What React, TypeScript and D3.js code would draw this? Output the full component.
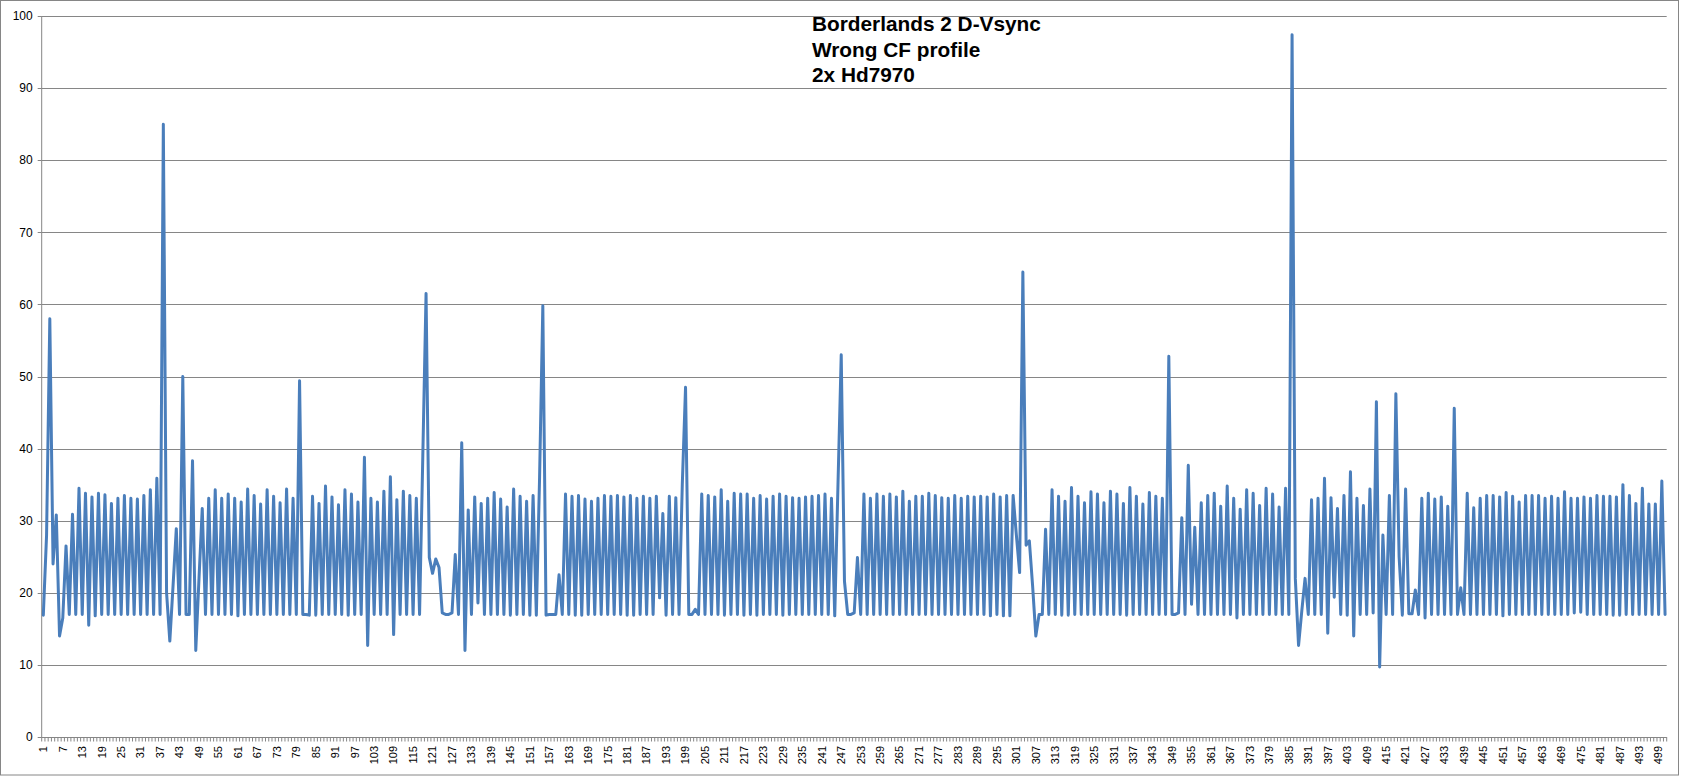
import React from "react";
import * as d3 from "d3";

const TITLE_LINES = ["Borderlands 2 D-Vsync", "Wrong CF profile", "2x Hd7970"];

const Y_TICKS = [0, 10, 20, 30, 40, 50, 60, 70, 80, 90, 100];

// frame time series, 501 samples
const FRAMES_1_100 = [
  16.9, 28, 58, 24, 30.8, 14, 16.5, 26.5, 17, 30.9,
  17, 34.5, 17, 33.8, 15.5, 33.3, 16.8, 33.8, 17, 33.6,
  17, 32.4, 17, 33.1, 17, 33.5, 17, 33.1, 17, 33.0,
  17, 33.5, 17, 34.3, 17, 35.9, 17, 85, 20, 13.3,
  21, 28.9, 17, 50, 17, 17, 38.3, 12, 22, 31.7,
  17, 33.1, 17, 34.3, 17, 33.1, 17, 33.7, 17, 33.1,
  16.8, 32.6, 17, 34.4, 17, 33.5, 17, 32.3, 17, 34.3,
  17, 33.4, 17, 32.5, 17, 34.4, 17, 33.1, 17, 49.4,
  17, 17, 16.9, 33.4, 16.9, 32.4, 17, 34.8, 17, 33.3,
  17, 32.2, 17, 34.3, 16.9, 33.7, 17, 32.6, 17, 38.8,
];
const FRAMES_101_200 = [
  12.7, 33.1, 17, 32.6, 17, 34.1, 17, 36.1, 14.2, 32.9,
  17, 34.1, 17, 33.5, 17, 33.1, 17, 39, 61.5, 24.9,
  22.7, 24.7, 23.5, 17.2, 17, 17, 17.2, 25.3, 17, 40.8,
  12, 31.5, 17, 33.3, 18.6, 32.4, 17, 33.1, 17, 33.9,
  17, 33.0, 17, 31.9, 16.9, 34.4, 17, 33.4, 17, 32.7,
  16.9, 33.5, 16.9, 36, 59.8, 16.9, 17, 17, 17, 22.5,
  17, 33.7, 17, 33.4, 16.9, 33.5, 16.9, 33.0, 17, 32.7,
  17, 33.1, 17, 33.5, 17, 33.4, 17, 33.5, 17, 33.3,
  16.9, 33.5, 16.9, 33.1, 17, 33.4, 17, 33.1, 17, 33.4,
  19.3, 31.0, 16.9, 33.4, 17, 33.2, 17, 35, 48.5, 17,
];
const FRAMES_201_300 = [
  17, 17.7, 17, 33.7, 17, 33.5, 17, 33.3, 17, 34.3,
  16.9, 32.7, 17, 33.8, 17, 33.7, 16.9, 33.7, 17, 33.1,
  16.9, 33.5, 17, 33.0, 17, 33.4, 17, 33.7, 16.9, 33.4,
  17, 33.2, 17, 33.1, 17, 33.3, 17, 33.4, 17, 33.5,
  17, 33.7, 17, 33.1, 16.8, 35, 53, 21.6, 17, 17,
  17.2, 24.9, 17, 33.7, 17, 33.1, 17, 33.7, 17, 33.4,
  17, 33.7, 17, 33.3, 17, 34.1, 17, 32.7, 17, 33.4,
  17, 33.4, 17, 33.8, 17, 33.5, 17, 33.2, 17, 33.1,
  17, 33.5, 17, 33.1, 17, 33.4, 17, 33.3, 17, 33.4,
  17, 33.3, 16.8, 33.7, 17, 33.3, 16.8, 33.5, 16.8, 33.5,
];
const FRAMES_301_400 = [
  28, 22.8, 64.5, 26.6, 27.2, 21, 14, 17, 17, 28.8,
  17, 34.3, 17, 33.4, 16.9, 32.7, 16.9, 34.6, 17, 33.4,
  17, 32.5, 17, 34.0, 17, 33.7, 17, 32.5, 17, 34.1,
  17, 33.7, 17, 32.4, 16.9, 34.6, 17, 33.4, 17, 32.3,
  17, 33.9, 17, 33.4, 17, 33.1, 17, 52.8, 17, 17,
  17.2, 30.4, 17, 37.7, 18.4, 29.1, 17, 32.5, 17, 33.5,
  17, 33.8, 17, 32.0, 17, 34.8, 17, 33.1, 16.5, 31.6,
  17, 34.3, 17, 33.8, 17, 32.1, 17, 34.5, 17, 33.7,
  17, 31.9, 17, 34.5, 17, 97.4, 22, 12.7, 17.5, 22.0,
  17, 32.9, 17, 33.1, 17, 35.9, 14.4, 33.2, 19.4, 31.7,
];
const FRAMES_401_501 = [
  17, 33.5, 16.9, 36.8, 14.0, 33.1, 17, 32.1, 17, 34.4,
  17.2, 46.5, 9.7, 28.0, 17, 33.5, 17, 47.6, 25, 16.9,
  34.4, 17.1, 17.1, 20.4, 17, 33.1, 16.5, 33.8, 17, 33.0,
  17, 33.3, 17, 32.0, 17, 45.6, 17, 20.7, 17, 33.8,
  17, 31.8, 17, 33.1, 17, 33.5, 17, 33.5, 17, 33.3,
  16.8, 33.9, 17, 33.4, 17, 32.6, 17, 33.5, 17, 33.5,
  17, 33.5, 17, 33.1, 17, 33.4, 17, 33.1, 17, 34.0,
  17, 33.1, 17.2, 33.1, 17.3, 33.3, 17, 33.1, 17, 33.5,
  17, 33.4, 17, 33.4, 16.9, 33.3, 16.9, 35.0, 17, 33.5,
  17, 32.4, 17, 34.5, 17, 32.3, 17, 32.3, 17, 35.5,
  17,
];

const VALUES = [
  ...FRAMES_1_100,
  ...FRAMES_101_200,
  ...FRAMES_201_300,
  ...FRAMES_301_400,
  ...FRAMES_401_501,
];
const CATEGORIES = VALUES.map((_, i) => String(i + 1));

const W = 1682;
const H = 776;
const PLOT = { left: 41.7, right: 1666.7, top: 16, bottom: 737 };
const LINE_COLOR = "#4A7EBB";
const GRID_COLOR = "#868686";
const FONT = "Arial, 'Liberation Sans', sans-serif";

export default function App() {
  const x = d3
    .scaleBand<string>()
    .domain(CATEGORIES)
    .range([PLOT.left, PLOT.right])
    .paddingInner(0)
    .paddingOuter(0);
  const bw = x.bandwidth();
  const cx = (c: string) => (x(c) as number) + bw / 2;
  const y = d3.scaleLinear().domain([0, 100]).range([PLOT.bottom, PLOT.top]);

  const line = d3
    .line<number>()
    .x((_, i) => cx(CATEGORIES[i]))
    .y((d) => y(d));

  const boundaries = [...CATEGORIES.map((c) => x(c) as number), PLOT.right];
  const labelled = CATEGORIES.filter((_, i) => i % 6 === 0);

  return (
    <svg
      width={W}
      height={H}
      style={{ position: "absolute", left: 0, top: 0, background: "#fff" }}
    >
      <rect x={0.5} y={0.5} width={W - 4} height={H - 1.5} fill="#fff" stroke={GRID_COLOR} strokeWidth={1} />
      {/* gridlines */}
      {Y_TICKS.filter((t) => t > 0).map((t) => (
        <line
          key={"g" + t}
          x1={PLOT.left}
          x2={PLOT.right}
          y1={Math.round(y(t)) + 0.5}
          y2={Math.round(y(t)) + 0.5}
          stroke={GRID_COLOR}
          strokeWidth={1}
        />
      ))}
      {/* y axis */}
      <line x1={PLOT.left} x2={PLOT.left} y1={PLOT.top} y2={PLOT.bottom} stroke={GRID_COLOR} />
      {Y_TICKS.map((t) => (
        <g key={"y" + t}>
          <line
            x1={PLOT.left - 4}
            x2={PLOT.left}
            y1={Math.round(y(t)) + 0.5}
            y2={Math.round(y(t)) + 0.5}
            stroke={GRID_COLOR}
          />
          <text
            x={PLOT.left - 9}
            y={y(t)}
            dy="0.35em"
            textAnchor="end"
            fontFamily={FONT}
            fontSize={12}
            fill="#000"
          >
            {t}
          </text>
        </g>
      ))}
      {/* x axis */}
      <line
        x1={PLOT.left}
        x2={PLOT.right}
        y1={PLOT.bottom + 0.5}
        y2={PLOT.bottom + 0.5}
        stroke={GRID_COLOR}
      />
      {boundaries.map((bx, i) => (
        <line
          key={"t" + i}
          x1={bx}
          x2={bx}
          y1={PLOT.bottom}
          y2={PLOT.bottom + 4.5}
          stroke={GRID_COLOR}
          strokeWidth={1}
        />
      ))}
      {labelled.map((c) => (
        <text
          key={"x" + c}
          transform={`translate(${cx(c)},${PLOT.bottom + 9}) rotate(-90)`}
          textAnchor="end"
          dy="0.35em"
          fontFamily={FONT}
          fontSize={11}
          fill="#000"
        >
          {c}
        </text>
      ))}
      {/* series */}
      <path
        d={line(VALUES) ?? ""}
        fill="none"
        stroke={LINE_COLOR}
        strokeWidth={3}
        strokeLinejoin="round"
        strokeLinecap="round"
      />
      {/* title */}
      {TITLE_LINES.map((t, i) => (
        <text
          key={"title" + i}
          x={812}
          y={31 + i * 25.7}
          fontFamily={FONT}
          fontWeight="bold"
          fontSize={20.8}
          fill="#000"
        >
          {t}
        </text>
      ))}
    </svg>
  );
}
